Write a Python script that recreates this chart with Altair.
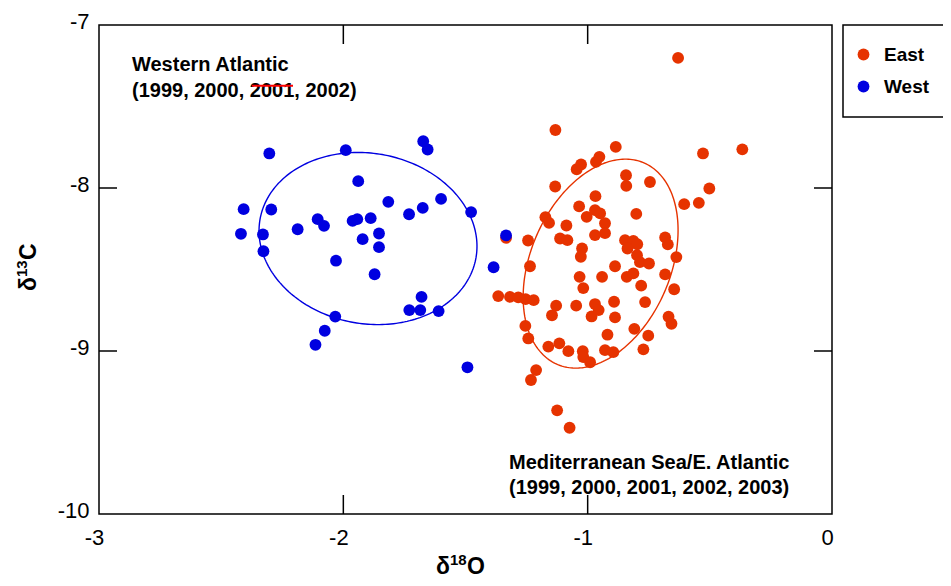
import altair as alt
import numpy as np
import pandas as pd

# ---------------- data ----------------
east_d18O = [
    -0.630, -1.132, -0.885, -0.528, -0.367, -1.045, -1.027, -0.966, -0.952, -0.843,
    -0.842, -0.745, -1.133, -0.502, -0.605, -0.545, -0.968, -1.035, -1.004, -0.970,
    -0.949, -0.801, -0.929, -0.929, -0.970, -1.173, -1.158, -1.087, -1.113, -1.083,
    -1.244, -0.683, -0.672, -0.847, -0.813, -0.797, -0.837, -1.023, -1.028, -0.637,
    -0.798, -0.786, -0.749, -1.236, -0.888, -0.840, -0.813, -0.941, -0.683, -1.033,
    -1.018, -0.781, -0.646, -1.366, -1.318, -1.284, -1.254, -1.221, -1.129, -1.146,
    -1.047, -0.970, -0.955, -0.984, -0.892, -0.765, -0.888, -0.669, -0.657, -1.255,
    -1.243, -0.919, -0.809, -0.752, -1.161, -1.116, -1.079, -1.020, -1.018, -0.990,
    -0.929, -0.895, -0.772, -1.211, -1.232, -1.125, -1.074, -1.334,
]
east_d13C = [
    -7.202, -7.644, -7.748, -7.788, -7.763, -7.885, -7.856, -7.840, -7.809, -7.922,
    -7.987, -7.963, -7.991, -8.003, -8.099, -8.091, -8.050, -8.113, -8.177, -8.136,
    -8.156, -8.159, -8.216, -8.277, -8.289, -8.179, -8.214, -8.230, -8.310, -8.320,
    -8.322, -8.303, -8.346, -8.320, -8.324, -8.345, -8.371, -8.371, -8.422, -8.424,
    -8.412, -8.455, -8.463, -8.480, -8.480, -8.545, -8.524, -8.545, -8.530, -8.545,
    -8.614, -8.599, -8.621, -8.663, -8.668, -8.671, -8.682, -8.688, -8.722, -8.781,
    -8.722, -8.712, -8.749, -8.788, -8.698, -8.700, -8.794, -8.790, -8.833, -8.846,
    -8.923, -8.900, -8.864, -8.906, -8.973, -8.953, -9.001, -9.001, -9.037, -9.069,
    -8.995, -9.007, -8.990, -9.117, -9.178, -9.364, -9.471, -8.305,
]
west_d18O = [
    -2.303, -1.990, -1.673, -1.655, -1.939, -2.408, -2.295, -1.816, -1.600, -1.477,
    -1.675, -1.731, -2.105, -2.079, -1.962, -1.943, -1.888, -2.187, -2.419, -2.329,
    -1.854, -1.921, -2.327, -1.854, -2.030, -1.872, -1.680, -1.730, -1.685, -1.610,
    -2.033, -2.076, -2.114, -1.492, -1.334, -1.385,
]
west_d13C = [
    -7.788, -7.768, -7.713, -7.764, -7.958, -8.130, -8.132, -8.085, -8.067, -8.148,
    -8.122, -8.161, -8.191, -8.232, -8.202, -8.191, -8.185, -8.253, -8.281, -8.285,
    -8.279, -8.314, -8.388, -8.363, -8.446, -8.529, -8.668, -8.749, -8.749, -8.755,
    -8.789, -8.876, -8.962, -9.100, -8.291, -8.486,
]
regions = ["East", "West"]
colors = ["#E63300", "#0000E0"]

# ellipse parameters: centre x, centre y, half width, half height, correlation
east_ellipse = [-0.947, -8.464, 0.317, 0.641, 0.32]
west_ellipse = [-1.899, -8.310, 0.446, 0.528, -0.09]

x_ticks = [-3, -2, -1, 0]
y_ticks = [-10, -9, -8, -7]
inner_x_ticks = [-2, -1]
inner_y_ticks = [-9, -8]

west_label = ["Western Atlantic", "(1999, 2000, 2001, 2002)"]
east_label = ["Mediterranean Sea/E. Atlantic", "(1999, 2000, 2001, 2002, 2003)"]

FONT = "Liberation Sans"

# ---------------- tables ----------------
pts = pd.concat([
    pd.DataFrame({"d18O": east_d18O, "d13C": east_d13C, "region": "East"}),
    pd.DataFrame({"d18O": west_d18O, "d13C": west_d13C, "region": "West"}),
], ignore_index=True)


def ellipse_df(p):
    cx, cy, sx, sy, r = p
    t = np.linspace(0, 2 * np.pi, 241)
    return pd.DataFrame({
        "i": np.arange(len(t)),
        "d18O": cx + sx * np.cos(t),
        "d13C": cy + sy * (r * np.cos(t) + np.sqrt(1 - r * r) * np.sin(t)),
    })


xscale = alt.Scale(domain=[-3, 0], nice=False, zero=False)
yscale = alt.Scale(domain=[-10, -7], nice=False, zero=False)
xaxis = alt.Axis(values=x_ticks, labelExpr="'' + datum.value", ticks=False, domain=False,
                 grid=False, labelPadding=13, labelOffset=-5, labelFlush=False, title=None)
yaxis = alt.Axis(values=y_ticks, labelExpr="'' + datum.value", ticks=False, domain=False,
                 grid=False, labelPadding=10, labelOffset=-4, labelFlush=False, title=None)
X = alt.X("d18O:Q", scale=xscale, axis=xaxis)
Y = alt.Y("d13C:Q", scale=yscale, axis=yaxis)

W, H = 733, 489

e_east = alt.Chart(ellipse_df(east_ellipse)).mark_line(color=colors[0], strokeWidth=1.4).encode(
    x=X, y=Y, order="i:Q")
e_west = alt.Chart(ellipse_df(west_ellipse)).mark_line(color=colors[1], strokeWidth=1.4).encode(
    x=X, y=Y, order="i:Q")

points = alt.Chart(pts).mark_circle(size=140, opacity=1).encode(
    x=X, y=Y,
    color=alt.Color("region:N", scale=alt.Scale(domain=regions, range=colors),
                    legend=alt.Legend(orient="none", legendX=744, legendY=0, title=None,
                                      strokeColor="black", padding=20, symbolOffset=-9,
                                      labelOffset=11, rowPadding=12, symbolSize=140,
                                      symbolType="circle", symbolStrokeWidth=0,
                                      labelFont=FONT, labelFontSize=19,
                                      labelFontWeight="bold", labelColor="black")),
)

ann = pd.DataFrame({
    "d18O": [-2.865, -2.865, -1.322, -1.322],
    "d13C": [-7.282, -7.441, -9.724, -9.877],
    "text": west_label + east_label,
})
texts = alt.Chart(ann).mark_text(align="left", baseline="alphabetic", font=FONT,
                                 fontSize=20, fontWeight="bold", color="black").encode(
    x=X, y=Y, text="text:N")

strike = alt.Chart(pd.DataFrame({"d18O": [-2.374], "e": [-2.206], "d13C": [-7.372]})).mark_rule(
    color="#FF0000", strokeWidth=2).encode(x=X, x2="e:Q", y=Y)

tx = pd.DataFrame({"d18O": inner_x_ticks})
ty = pd.DataFrame({"d13C": inner_y_ticks})
rule = dict(color="black", strokeWidth=1.5)
t_bottom = alt.Chart(tx).mark_rule(**rule).encode(x=X, y=alt.value(H), y2=alt.value(H - 19))
t_top = alt.Chart(tx).mark_rule(**rule).encode(x=X, y=alt.value(0), y2=alt.value(19))
t_left = alt.Chart(ty).mark_rule(**rule).encode(y=Y, x=alt.value(0), x2=alt.value(18))
t_right = alt.Chart(ty).mark_rule(**rule).encode(y=Y, x=alt.value(W), x2=alt.value(W - 18))

# axis titles with real superscripts (pieces of text)
base_txt = alt.Chart(pd.DataFrame({"k": [0]}))
tstyle = dict(font=FONT, fontWeight="bold", color="black", align="left", baseline="alphabetic")
x_title = alt.layer(
    base_txt.mark_text(text="δ", fontSize=23, **tstyle).encode(x=alt.value(337), y=alt.value(549)),
    base_txt.mark_text(text="18", fontSize=15, **tstyle).encode(x=alt.value(351), y=alt.value(540)),
    base_txt.mark_text(text="O", fontSize=23, **tstyle).encode(x=alt.value(368), y=alt.value(549)),
)
y_title = alt.layer(
    base_txt.mark_text(text="δ", fontSize=23, angle=270, **tstyle).encode(x=alt.value(-63), y=alt.value(266)),
    base_txt.mark_text(text="13", fontSize=15, angle=270, **tstyle).encode(x=alt.value(-72), y=alt.value(252)),
    base_txt.mark_text(text="C", fontSize=23, angle=270, **tstyle).encode(x=alt.value(-63), y=alt.value(235)),
)

chart = alt.layer(
    e_east, e_west, points, texts, strike, t_bottom, t_top, t_left, t_right, x_title, y_title
).properties(
    width=W, height=H,
    padding={"left": 91, "top": 17, "right": 111, "bottom": 64},
    autosize=alt.AutoSizeParams(type="none"),
    background="white",
).configure_view(
    stroke="black", strokeWidth=1.5
).configure_axis(
    labelFont=FONT, labelFontSize=22, labelColor="black",
).configure_legend(
    strokeWidth=1.5
)

chart.save("out.html", embed_options={"renderer": "svg", "actions": False})
